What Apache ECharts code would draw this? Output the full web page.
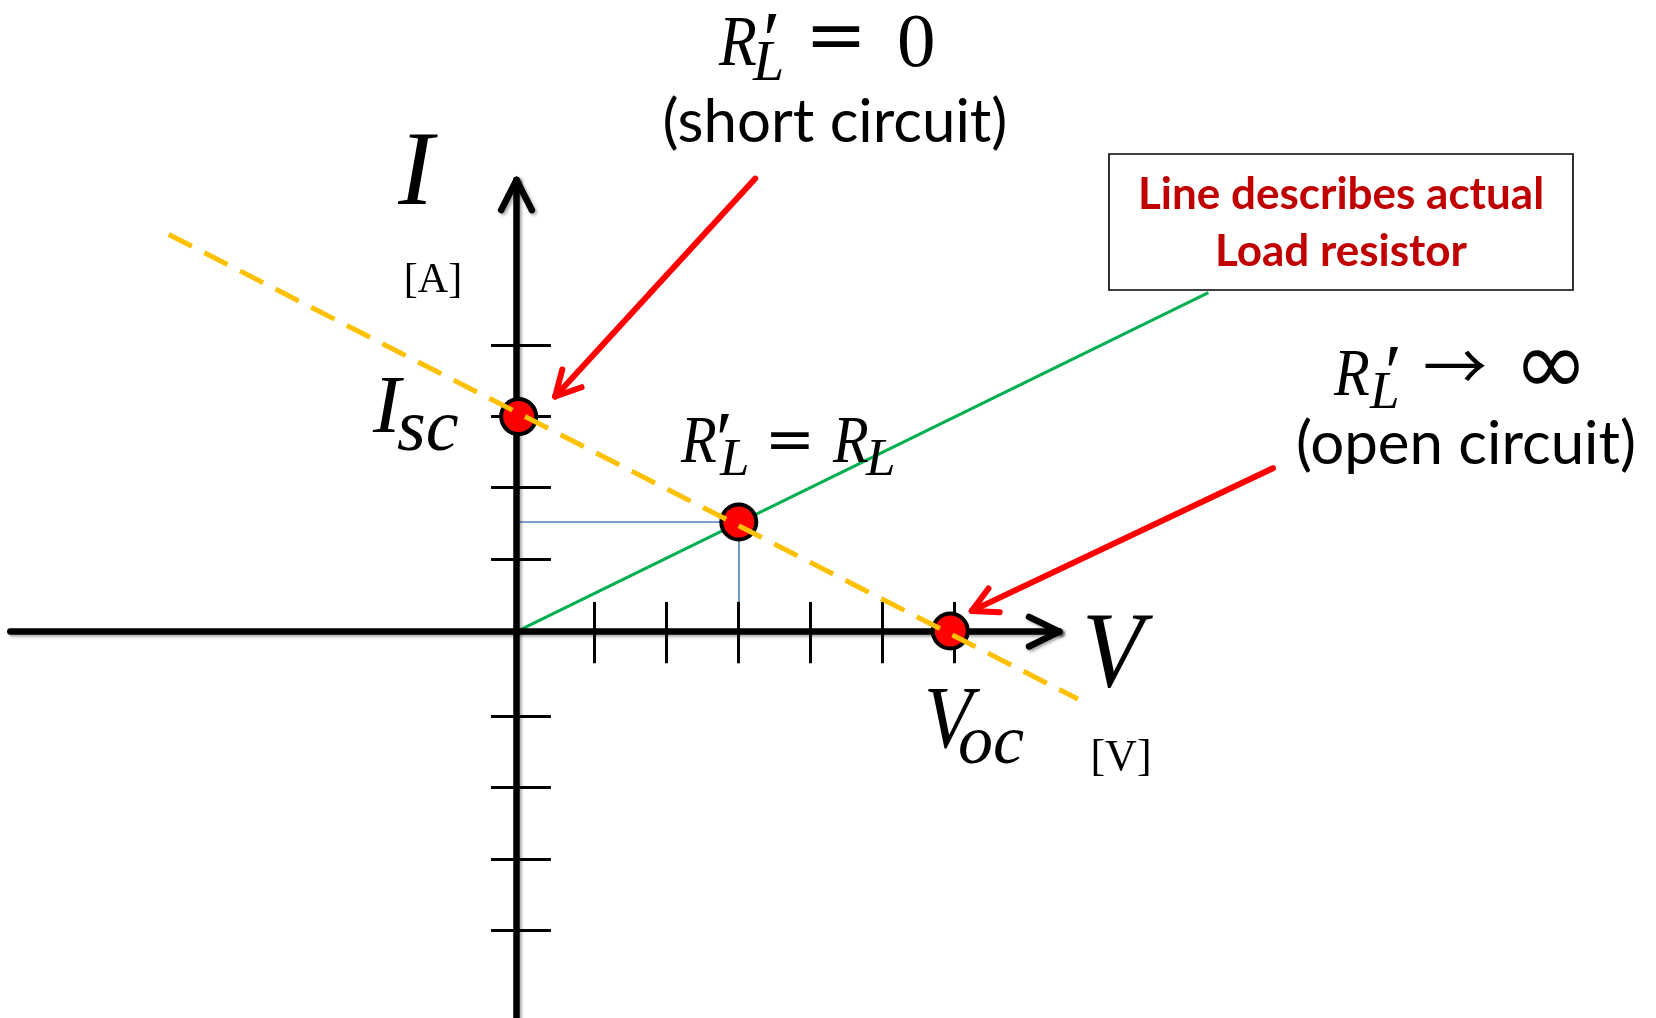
<!DOCTYPE html>
<html><head><meta charset="utf-8">
<script src="https://cdn.jsdelivr.net/npm/echarts@6/dist/echarts.min.js"></script>
<style>html,body{margin:0;padding:0;background:#fff;}#chart{width:1656px;height:1018px;}</style>
</head><body><div id="chart"></div>
<script>
// ---------- data (diagram units: one tick spacing = 1) ----------
const xTicks = [1.09, 2.09, 3.09, 4.10, 5.10, 6.10];
const yTicks = [1.01, 2.01, 3.0, 4.0, -1.18, -2.17, -3.17, -4.16];
const xAxisExtent = [-7.06, 7.57];
const yAxisExtent = [-5.40, 6.30];
const pointNames = ['Isc', 'RL', 'Voc'];
const pointX = [0.03, 3.10, 6.05];
const pointY = [3.00, 1.53, 0.01];
const loadLineX = [-4.85, 7.83];
const loadLineY = [5.54, -0.94];
const resistorLineX = [0, 9.65];
const resistorLineY = [0, 4.73];
const arrowStartX = [3.33, 10.55];
const arrowStartY = [6.32, 2.28];
const arrowTipX = [0.54, 6.35];
const arrowTipY = [3.28, 0.29];

// ---------- layout ----------
const W = 1656, H = 1018, UNIT = 71.7, OX = 516.5, OY = 631.7;
const deg = Math.PI / 180;

function head(tx, ty, fx, fy, len, ang) {
  const dx = tx - fx, dy = ty - fy, d = Math.hypot(dx, dy);
  const ux = dx / d, uy = dy / d, out = [];
  for (const s of [1, -1]) {
    const c = Math.cos(s * ang), sn = Math.sin(s * ang);
    const rx = ux * c - uy * sn, ry = ux * sn + uy * c;
    out.push({coords: [[tx, ty], [tx - rx * len, ty - ry * len]]});
  }
  return out;
}

const axisSegs = [
  {coords: [[xAxisExtent[0], 0], [xAxisExtent[1], 0]]},
  {coords: [[0, yAxisExtent[0]], [0, yAxisExtent[1]]]}
].concat(head(xAxisExtent[1], 0, 0, 0, 0.47, 26 * deg))
 .concat(head(0, yAxisExtent[1], 0, 0, 0.47, 27 * deg));

const tickSegs = xTicks.map(x => ({coords: [[x, 0.415], [x, -0.44]]}))
  .concat(yTicks.map(y => ({coords: [[-0.355, y], [0.48, y]]})));

const blueSegs = [
  {coords: [[0, pointY[1]], [pointX[1], pointY[1]]]},
  {coords: [[pointX[1], pointY[1]], [pointX[1], -0.44]]}
];

let redSegs = [];
for (let i = 0; i < arrowStartX.length; i++) {
  redSegs.push({coords: [[arrowStartX[i], arrowStartY[i]], [arrowTipX[i], arrowTipY[i]]]});
  redSegs = redSegs.concat(head(arrowTipX[i], arrowTipY[i], arrowStartX[i], arrowStartY[i], 0.39, 28 * deg));
}

const SERIF = '"Liberation Serif", "DejaVu Serif", serif';
const SANS = 'Lato, "Open Sans", sans-serif';
function txt(text, x, base, size, o) {
  o = o || {};
  const align = o.align || 'left';
  const k = o.k != null ? o.k : (o.family === SANS ? 0.32 : 0.27);
  const el = {
    type: 'text', x: x, y: (o.cy != null ? o.cy : base - k * size), z: 100,
    scaleX: o.sx || 1,
    style: {
      text: text, fill: o.color || '#000',
      fontSize: size, fontFamily: o.family || SERIF,
      fontStyle: o.italic ? 'italic' : 'normal',
      fontWeight: o.bold ? 'bold' : 'normal',
      align: align, textAlign: align,
      verticalAlign: 'middle', textVerticalAlign: 'middle'
    }
  };
  return el;
}
const it = {italic: true};
const R = {italic: true, sx: 0.86};
const PR = (cy) => ({italic: true, cy: cy});
const MATH = '"DejaVu Serif", serif';

const graphics = [
  // box
  {type: 'rect', shape: {x: 1109, y: 154, width: 464, height: 136}, z: 90,
   style: {fill: '#fff', stroke: '#000', lineWidth: 1.6}},
  txt('Line describes actual', 1341, 209, 44, {family: SANS, bold: true, color: '#C00000', align: 'center'}),
  txt('Load resistor', 1341, 266, 44, {family: SANS, bold: true, color: '#C00000', align: 'center'}),
  // axis names
  txt('I', 416, 205, 106, {italic: true, align: 'center'}),
  txt('[A]', 433, 292, 42, {align: 'center'}),
  txt('V', 1082, 687, 108, {italic: true, sx: 0.93}),
  txt('[V]', 1121, 770, 44, {align: 'center'}),
  // Isc
  txt('I', 373, 433, 83, it),
  txt('sc', 397, 451, 74, it),
  // Voc
  txt('V', 924, 748, 88, {italic: true, sx: 0.9}),
  txt('oc', 958, 763, 70, it),
  // R'L = 0
  txt('R', 719, 66, 72, R),
  txt('\u2032', 758, 0, 80, PR(46)),
  txt('L', 753, 80, 56, it),
  txt('=', 836, 0, 74, {family: MATH, align: 'center', cy: 40.5}),
  txt('0', 897, 67, 77),
  txt('(short circuit)', 835, 142, 60, {family: SANS, align: 'center'}),
  // R'L = RL
  txt('R', 681, 462, 68, R),
  txt('\u2032', 711, 0, 78, PR(444)),
  txt('L', 720, 475, 53, it),
  txt('=', 790, 0, 60, {family: MATH, align: 'center', cy: 443}),
  txt('R', 833, 462, 68, R),
  txt('L', 866, 475, 53, it),
  // R'L -> inf
  txt('R', 1334, 395, 68, R),
  txt('\u2032', 1380, 0, 78, PR(377)),
  txt('L', 1370, 408, 53, it),
  txt('\u2192', 1455, 0, 64, {family: '"Noto Sans CJK SC", "DejaVu Sans", sans-serif', align: 'center', cy: 366}),
  txt('\u221E', 1551, 0, 90, {family: '"DejaVu Sans", sans-serif', align: 'center', cy: 371}),
  txt('(open circuit)', 1466, 464, 60, {family: SANS, align: 'center'})
];

const chart = echarts.init(document.getElementById('chart'), null, {renderer: 'canvas'});
chart.setOption({
  animation: false,
  backgroundColor: '#fff',
  grid: {left: 0, right: 0, top: 0, bottom: 0, containLabel: false},
  xAxis: {type: 'value', min: -OX / UNIT, max: (W - OX) / UNIT, show: false},
  yAxis: {type: 'value', min: -(H - OY) / UNIT, max: OY / UNIT, show: false},
  series: [
    {type: 'lines', coordinateSystem: 'cartesian2d', z: 2, silent: true,
     data: [{coords: [[resistorLineX[0], resistorLineY[0]], [resistorLineX[1], resistorLineY[1]]]}],
     lineStyle: {color: '#00B050', width: 3, opacity: 1}},
    {type: 'lines', coordinateSystem: 'cartesian2d', z: 2, silent: true, data: blueSegs,
     lineStyle: {color: '#4F81BD', width: 1.6, opacity: 1}},
    {type: 'lines', coordinateSystem: 'cartesian2d', z: 3, silent: true, data: tickSegs,
     lineStyle: {color: '#000', width: 3, opacity: 1}},
    {type: 'lines', coordinateSystem: 'cartesian2d', z: 4, silent: true, data: axisSegs,
     lineStyle: {color: '#000', width: 6.5, opacity: 1, cap: 'round', join: 'round',
       shadowBlur: 3, shadowColor: 'rgba(0,0,0,0.35)', shadowOffsetX: 2, shadowOffsetY: 2}},
    {type: 'scatter', z: 5, silent: true, symbol: 'circle', symbolSize: 35,
     data: pointX.map((x, i) => ({name: pointNames[i], value: [x, pointY[i]]})),
     itemStyle: {color: '#FF0000', borderColor: '#000', borderWidth: 4, opacity: 1}},
    {type: 'lines', coordinateSystem: 'cartesian2d', z: 6, silent: true,
     data: [{coords: [[loadLineX[0], loadLineY[0]], [loadLineX[1], loadLineY[1]]]}],
     lineStyle: {color: '#FFC000', width: 5, type: [26, 14], opacity: 1}},
    {type: 'lines', coordinateSystem: 'cartesian2d', z: 7, silent: true, data: redSegs,
     lineStyle: {color: '#FF0000', width: 6, opacity: 1, cap: 'round', join: 'round'}}
  ],
  graphic: graphics
});
</script></body></html>
